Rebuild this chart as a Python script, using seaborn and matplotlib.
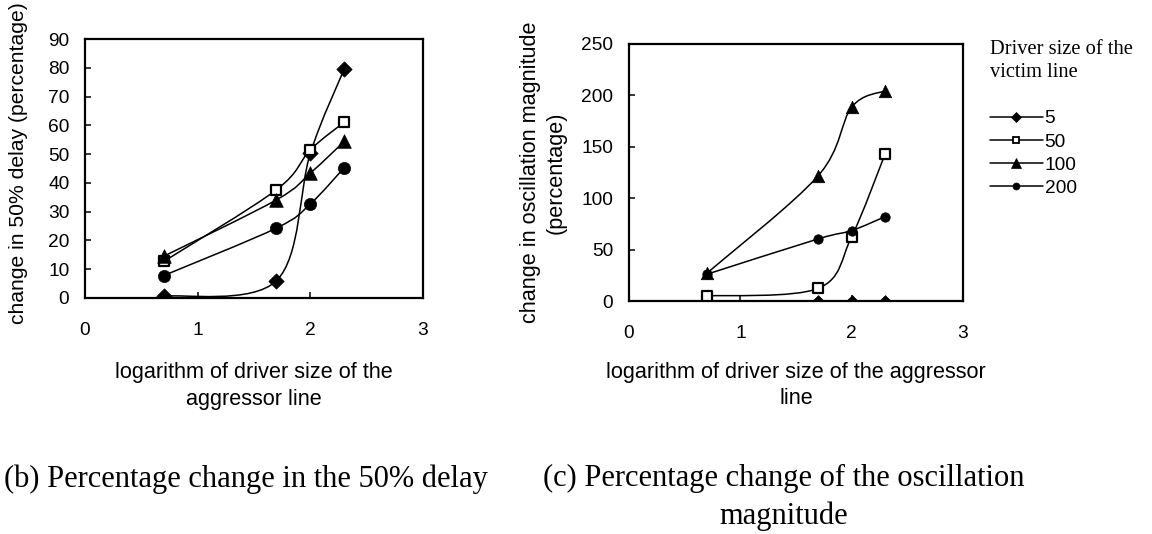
import numpy as np
import pandas as pd
import matplotlib
matplotlib.use("Agg")
import matplotlib.pyplot as plt
import seaborn as sns
from matplotlib.path import Path
from matplotlib.patches import PathPatch
from matplotlib.lines import Line2D

# ---------------- data ----------------
aggressor_sizes = [5, 50, 100, 200]          # x = log10(aggressor driver size)
victim_sizes = ["5", "50", "100", "200"]      # legend series

delay_5 = [0.6, 6.0, 50.3, 79.6]
delay_50 = [12.7, 37.6, 51.5, 61.1]
delay_100 = [14.5, 34.1, 43.4, 54.4]
delay_200 = [7.8, 24.3, 32.7, 45.3]

osc_5 = [0, 0, 0, 0]
osc_50 = [4.9, 12.3, 62.7, 143.2]
osc_100 = [27, 121.8, 188.6, 204.5]
osc_200 = [26, 60.4, 68.5, 82.1]

x_ticks = [0, 1, 2, 3]
delay_ticks = [0, 10, 20, 30, 40, 50, 60, 70, 80, 90]
osc_ticks = [0, 50, 100, 150, 200, 250]

# ---------------- style ----------------
sns.set_theme(style="white")
plt.rcParams["font.family"] = ["Liberation Sans", "DejaVu Sans"]
plt.rcParams["axes.edgecolor"] = "black"
plt.rcParams["text.color"] = "black"
plt.rcParams["axes.labelcolor"] = "black"

marker_style = {
    "5": dict(marker="D", face="black"),
    "50": dict(marker="s", face="white"),
    "100": dict(marker="^", face="black"),
    "200": dict(marker="o", face="black"),
}


def build_df(series):
    rows = []
    for name, vals in zip(victim_sizes, series):
        for s, v in zip(aggressor_sizes, vals):
            rows.append({"victim": name, "x": np.log10(s), "y": v})
    return pd.DataFrame(rows)


df_delay = build_df([delay_5, delay_50, delay_100, delay_200])
df_osc = build_df([osc_5, osc_50, osc_100, osc_200])


def smooth_path(x, y):
    pts = np.column_stack([x, y]).astype(float)
    n = len(pts)
    verts = [pts[0]]
    codes = [Path.MOVETO]
    for i in range(n - 1):
        p0 = pts[i - 1] if i > 0 else pts[i]
        p1 = pts[i]
        p2 = pts[i + 1]
        p3 = pts[i + 2] if i + 2 < n else pts[i + 1]
        c1 = p1 + (p2 - p0) / 6.0
        c2 = p2 - (p3 - p1) / 6.0
        verts += [c1, c2, p2]
        codes += [Path.CURVE4] * 3
    return Path(verts, codes)


fig = plt.figure(figsize=(11.52, 5.34), dpi=100)
ax1 = fig.add_axes([85 / 1152, 1 - 298 / 534, 338 / 1152, 259 / 534])
ax2 = fig.add_axes([629 / 1152, 1 - 301 / 534, 334 / 1152, 257 / 534])


def draw(ax, df, sizes):
    for name in victim_sizes:
        sub = df[df["victim"] == name]
        patch = PathPatch(smooth_path(sub["x"].values, sub["y"].values),
                          facecolor="none", edgecolor="black", lw=1.1, zorder=2)
        ax.add_patch(patch)
    for name in victim_sizes:
        sub = df[df["victim"] == name]
        st = marker_style[name]
        sns.scatterplot(data=sub, x="x", y="y", ax=ax, marker=st["marker"],
                        s=sizes[name] ** 2, color=st["face"], edgecolor="black",
                        linewidth=1.6 if name == "50" else 0.5, zorder=3,
                        legend=False)


draw(ax1, df_delay, {"5": 7.8, "50": 7.8, "100": 9.8, "200": 8.8})
draw(ax2, df_osc, {"5": 6.0, "50": 6.8, "100": 9.0, "200": 6.8})

for ax, yt, ymax in [(ax1, delay_ticks, 90), (ax2, osc_ticks, 250)]:
    ax.set_xlim(0, 3)
    ax.set_ylim(0, ymax)
    ax.set_xticks(x_ticks)
    ax.set_yticks(yt)
    ax.tick_params(axis="both", direction="in", length=4.3, width=1.1,
                   labelsize=13.8, colors="black", left=True, bottom=True)
    ax.tick_params(axis="y", pad=11.3)
    ax.tick_params(axis="x", pad=17.5)
    for sp in ax.spines.values():
        sp.set_visible(True)
        sp.set_color("black")
        sp.set_linewidth(1.6)

ax1.set_xlabel("logarithm of driver size of the\naggressor line", fontsize=15.6,
               linespacing=1.35)
ax1.xaxis.set_label_coords(0.5, -0.247)
ax1.set_ylabel("change in 50% delay (percentage)", fontsize=15.2, va="center")
ax1.yaxis.set_label_coords(-0.196, 0.522)

ax2.set_xlabel("logarithm of driver size of the aggressor\nline", fontsize=15.6,
               linespacing=1.35)
ax2.xaxis.set_label_coords(0.5, -0.236)
ax2.set_ylabel("change in oscillation magnitude\n(percentage)", fontsize=15.6,
               va="center", linespacing=1.25)
ax2.yaxis.set_label_coords(-0.256, 0.5)

# legend
handles = []
for name in victim_sizes:
    st = marker_style[name]
    handles.append(Line2D([], [], color="black", lw=1.1, marker=st["marker"],
                          ms=5 if name != "100" else 7, mfc=st["face"],
                          mec="black", mew=1.3 if name == "50" else 0.5))
fig.legend(handles, victim_sizes, loc="upper left",
           bbox_to_anchor=(990 / 1152, 1 - 110 / 534), frameon=False,
           fontsize=13.8, handlelength=2.75, handletextpad=0.1,
           labelspacing=0.3, borderpad=0, borderaxespad=0)
fig.text(990 / 1152, 1 - 61 / 534, "Driver size of the\nvictim line",
         family=["Liberation Serif", "DejaVu Serif"], fontsize=14.8,
         ha="left", va="center", linespacing=1.35)

# captions
fig.text(4 / 1152, 1 - 479 / 534, "(b) Percentage change in the 50% delay",
         family=["Liberation Serif", "DejaVu Serif"], fontsize=22,
         ha="left", va="center")
fig.text(784 / 1152, 1 - 497.5 / 534,
         "(c) Percentage change of the oscillation\nmagnitude",
         family=["Liberation Serif", "DejaVu Serif"], fontsize=22,
         ha="center", va="center", multialignment="center", linespacing=1.34)

fig.savefig("out.png", dpi=100)
